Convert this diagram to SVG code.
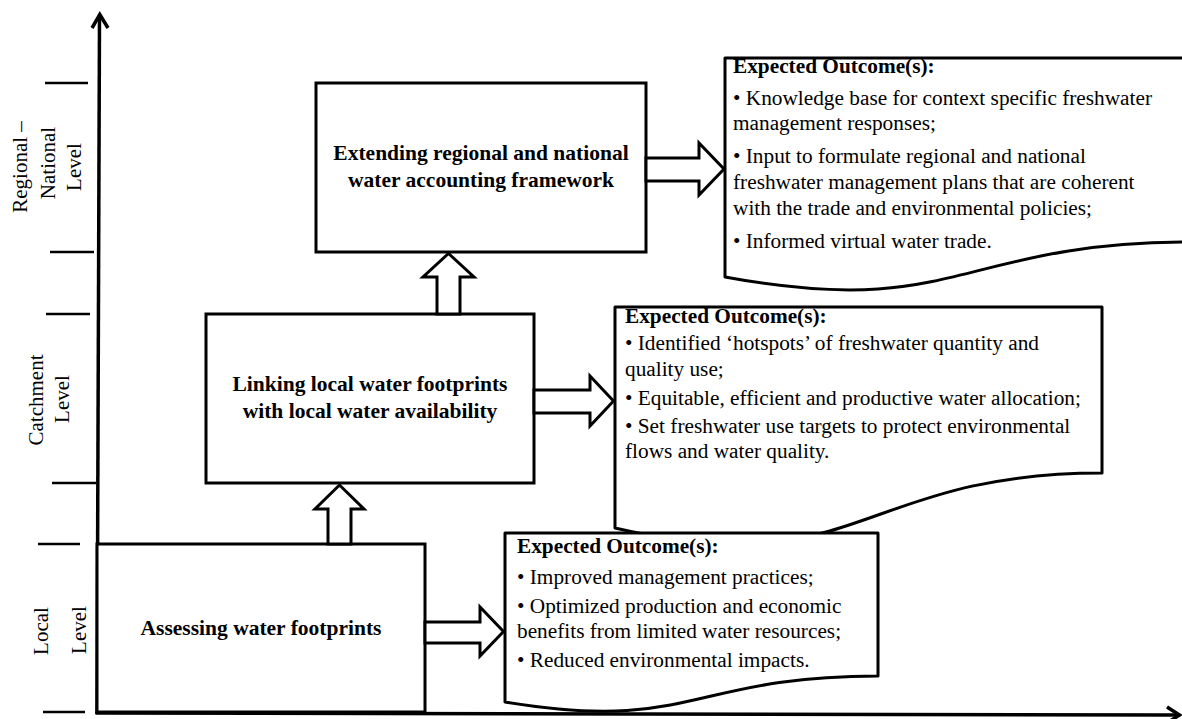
<svg xmlns="http://www.w3.org/2000/svg" width="1182" height="719" viewBox="0 0 1182 719">
<style>
text{font-family:"Liberation Serif","Times New Roman",serif;fill:#000}
.ax{font-size:21px;text-anchor:middle}
.tt{font-size:21.5px;font-weight:bold;text-anchor:middle}
.hd{font-size:21.3px;font-weight:bold}
.bd{font-size:21.3px}
.box{fill:#fff;stroke:#000;stroke-width:3;stroke-linejoin:miter}
.doc{fill:#fff;stroke:#000;stroke-width:3;stroke-linejoin:round}
.blk{fill:#fff;stroke:#000;stroke-width:3;stroke-linejoin:miter}
.axis{fill:none;stroke:#000;stroke-width:3.5}
.tick{stroke:#000;stroke-width:2.5}
</style>
<rect width="1182" height="719" fill="#fff"/>
<g id="axes">
<line class="axis" x1="99.5" y1="16" x2="97" y2="714"/>
<polyline class="axis" points="92,28 99.8,14.5 108,28"/>
<line class="axis" x1="95.5" y1="713" x2="1178" y2="715"/>
<polyline class="axis" points="1167,707 1179.5,715 1167,723"/>
<line class="tick" x1="45" y1="83" x2="88" y2="83"/>
<line class="tick" x1="50" y1="252" x2="94" y2="252"/>
<line class="tick" x1="46" y1="314" x2="90" y2="314"/>
<line class="tick" x1="52" y1="483" x2="96" y2="483"/>
<line class="tick" x1="38" y1="544" x2="80" y2="544"/>
<line class="tick" x1="43" y1="712" x2="85" y2="712"/>
</g>
<g id="axis-labels">
<text class="ax" transform="translate(27,167) rotate(-90)">Regional –</text>
<text class="ax" transform="translate(55,163) rotate(-90)">National</text>
<text class="ax" transform="translate(81,167) rotate(-90)">Level</text>
<text class="ax" transform="translate(43,400) rotate(-90)">Catchment</text>
<text class="ax" transform="translate(69,399) rotate(-90)">Level</text>
<text class="ax" transform="translate(48,631) rotate(-90)">Local</text>
<text class="ax" transform="translate(86,630) rotate(-90)">Level</text>
</g>
<g id="outcome-regional">
<path class="doc" d="M725,58 H1192 V242 C958.5,242 958.5,320 725,277 Z"/>
<text class="hd" x="733" y="73">Expected Outcome(s):</text>
<text class="bd" x="733" y="105">• Knowledge base for context specific freshwater</text>
<text class="bd" x="733" y="130">management responses;</text>
<text class="bd" x="733" y="163">• Input to formulate regional and national</text>
<text class="bd" x="733" y="189">freshwater management plans that are coherent</text>
<text class="bd" x="733" y="215">with the trade and environmental policies;</text>
<text class="bd" x="733" y="248">• Informed virtual water trade.</text>
</g>
<g id="outcome-catchment">
<path class="doc" d="M615,307 H1102 V473 C858.5,473 858.5,585 615,528 Z"/>
<text class="hd" x="625" y="323">Expected Outcome(s):</text>
<text class="bd" x="625" y="350">• Identified ‘hotspots’ of freshwater quantity and</text>
<text class="bd" x="625" y="376">quality use;</text>
<text class="bd" x="625" y="405">• Equitable, efficient and productive water allocation;</text>
<text class="bd" x="625" y="433">• Set freshwater use targets to protect environmental</text>
<text class="bd" x="625" y="458">flows and water quality.</text>
</g>
<g id="outcome-local">
<path class="doc" d="M505,533 H878 V676 C691.5,676 691.5,733 505,702 Z"/>
<text class="hd" x="517" y="553">Expected Outcome(s):</text>
<text class="bd" x="517" y="584">• Improved management practices;</text>
<text class="bd" x="517" y="613">• Optimized production and economic</text>
<text class="bd" x="517" y="638">benefits from limited water resources;</text>
<text class="bd" x="517" y="667">• Reduced environmental impacts.</text>
</g>
<g id="node-regional">
<rect class="box" x="316" y="83" width="330" height="169"/>
<text class="tt" x="481" y="160">Extending regional and national</text>
<text class="tt" x="481" y="187">water accounting framework</text>
</g>
<g id="node-catchment">
<rect class="box" x="206" y="314" width="328" height="169"/>
<text class="tt" x="370" y="391">Linking local water footprints</text>
<text class="tt" x="370" y="418">with local water availability</text>
</g>
<g id="node-local">
<rect class="box" x="97" y="544" width="328" height="168"/>
<text class="tt" x="261" y="635">Assessing water footprints</text>
</g>
<g id="connectors">
<polygon class="blk" points="328,544 328,509 315,509 339.5,485 364,509 351,509 351,544"/>
<polygon class="blk" points="437,314 437,277 423,277 448.5,253.5 474,277 460,277 460,314"/>
<polygon class="blk" points="646,158 699,158 699,143 724,169 699,195 699,181 646,181"/>
<polygon class="blk" points="534,390 590,390 590,376 613.5,401 590,426 590,413 534,413"/>
<polygon class="blk" points="425,622 480,622 480,607 503.5,631.5 480,656 480,643 425,643"/>
</g>
</svg>
